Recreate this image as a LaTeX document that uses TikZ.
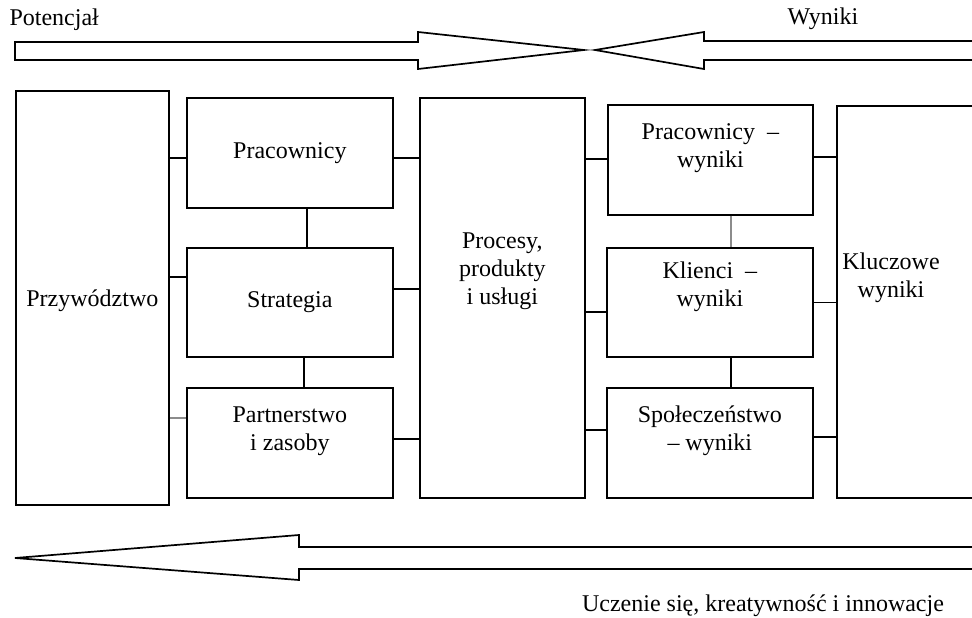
\documentclass[tikz,border=0pt]{standalone}
\usepackage{fontspec}
\setmainfont{Liberation Serif}
\tikzset{
    blok/.style={draw, line width=1.7pt, anchor=north west, inner sep=0pt},
    napis/.style={font=\fontsize{24}{28}\selectfont, align=center},
    lacz/.style={line width=1.7pt},
    laczszary/.style={line width=1.7pt, gray!90},
    strzala/.style={line width=1.7pt, line join=miter}
}

\begin{document}
\begin{tikzpicture}[x=1pt, y=-1pt]
    \useasboundingbox (0,0) rectangle (972,618);
    \clip (0,0) rectangle (972,618);
    % Boxes
    \node[blok, minimum width=153pt, minimum height=414pt] (przyw) at (15,90) {};
    \node[blok, minimum width=206pt, minimum height=110pt] (prac) at (186,97) {};
    \node[blok, minimum width=206pt, minimum height=109pt] (strat) at (186,247) {};
    \node[blok, minimum width=206pt, minimum height=110pt] (partn) at (186,387) {};
    \node[blok, minimum width=165pt, minimum height=400pt] (proc) at (419,97) {};
    \node[blok, minimum width=205pt, minimum height=110pt] (pracw) at (607,104) {};
    \node[blok, minimum width=206pt, minimum height=109pt] (klien) at (606,247) {};
    \node[blok, minimum width=206pt, minimum height=110pt] (spol) at (606,387) {};
    \node[blok, minimum width=170pt, minimum height=392pt] (klucz) at (836,105) {};
    % Box texts
    \node[napis] (t-przyw) at ([yshift=-3pt]przyw.center) {Przywództwo};
    \node[napis] (t-prac) at (prac.center) {Pracownicy};
    \node[napis] (t-strat) at (strat.center) {Strategia};
    \node[napis] (t-partn) at ([yshift=12pt]partn.center) {Partnerstwo\\i zasoby};
    \node[napis] (t-proc) at ([yshift=27pt]proc.center) {Procesy,\\produkty\\i usługi};
    \node[napis] (t-pracw) at ([yshift=12pt]pracw.center) {Pracownicy \ --\\wyniki};
    \node[napis] (t-klien) at ([yshift=16pt]klien.center) {Klienci \ --\\wyniki};
    \node[napis] (t-spol) at ([yshift=12pt]spol.center) {Społeczeństwo\\-- wyniki};
    \node[napis] (t-klucz) at ([xshift=55pt, yshift=24pt]klucz.west) {Kluczowe\\wyniki};
    % Connectors
    \foreach \a/\s in {prac/-5, strat/25.5}
        \draw[lacz] ([yshift=\s pt]\a.west) -- ([yshift=\s pt]\a.west -| przyw.east);
    \draw[laczszary] ([yshift=25pt]partn.west) -- ([yshift=25pt]partn.west -| przyw.east);
    \foreach \a/\s in {prac/-5, strat/13.5, partn/4}
        \draw[lacz] ([yshift=\s pt]\a.east) -- ([yshift=\s pt]\a.east -| proc.west);
    \foreach \a/\s in {pracw/1, klien/-9.5, spol/13}
        \draw[lacz] ([yshift=\s pt]\a.west) -- ([yshift=\s pt]\a.west -| proc.east);
    \foreach \a/\s in {pracw/3, klien/0, spol/6}
        \draw[lacz] ([yshift=\s pt]\a.east) -- ([yshift=\s pt]\a.east -| klucz.west);
    \draw[lacz] ([xshift=17pt]prac.south) -- ([xshift=17pt]prac.south |- strat.north);
    \draw[lacz] ([xshift=14pt]strat.south) -- ([xshift=14pt]strat.south |- partn.north);
    \draw[laczszary] ([xshift=20.5pt]pracw.south) -- ([xshift=20.5pt]pracw.south |- klien.north);
    \draw[lacz] ([xshift=21pt]klien.south) -- ([xshift=21pt]klien.south |- spol.north);
    % Arrows
    \draw[strzala] (15,42) -- (418,42) -- (418,32) -- (584,50) -- (418,69)
        -- (418,60) -- (15,60) -- cycle;
    \draw[strzala] (990,41) -- (704,41) -- (704,32) -- (595,50) -- (704,69)
        -- (704,60) -- (990,60);
    \draw[strzala] (990,547) -- (299,547) -- (299,535) -- (15,558) -- (299,580)
        -- (299,569) -- (990,569);
    % Arrow labels
    \node[napis, anchor=west] (potenc) at (6,20) {Potencjał};
    \node[napis] (wyniki) at (823,19) {Wyniki};
    \node[napis] (uczenie) at (763,606) {Uczenie się, kreatywność i innowacje};
\end{tikzpicture}
\end{document}
